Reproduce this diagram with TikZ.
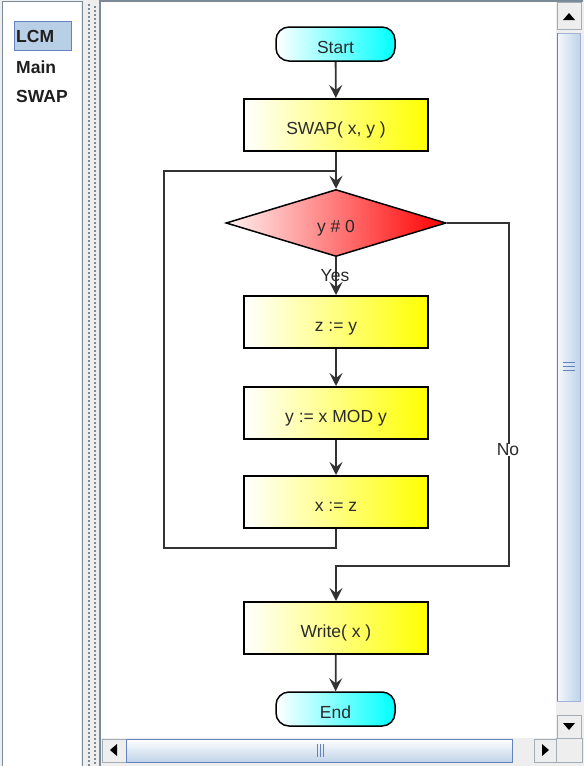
\documentclass[tikz,border=0pt]{standalone}
\usepackage{fontspec}
\setmainfont{Liberation Sans}
\usetikzlibrary{arrows.meta,shapes.geometric}
\definecolor{panelgray}{HTML}{EEEEEE}
\definecolor{framegray}{HTML}{7A8A99}
\definecolor{selbg}{HTML}{B8CFE5}
\definecolor{selborder}{HTML}{6382BF}
\definecolor{txt}{HTML}{2A2A2A}
\definecolor{linec}{HTML}{333333}
\definecolor{thumblight}{HTML}{F4F8FC}
\definecolor{thumbdark}{HTML}{BFD3E8}
\definecolor{pinkl}{HTML}{FFF2F2}
\begin{document}
\begin{tikzpicture}[x=1pt,y=-1pt,
  boxfont/.style={font=\fontsize{17.5}{20}\selectfont, text=txt, text height=18pt, text depth=0pt},
  procbox/.style={boxfont, draw=black, line width=2pt, left color=white, right color=yellow,
    minimum width=184pt, minimum height=52pt, inner sep=0pt},
  termbox/.style={boxfont, draw=black, line width=1.5pt, rounded corners=13pt, left color=white, right color=cyan,
    minimum width=119pt, minimum height=34pt, inner sep=0pt},
  decbox/.style={boxfont, shape=diamond, draw=black, line width=1.5pt, left color=pinkl, right color=red,
    minimum width=220pt, minimum height=67pt, inner sep=0pt, aspect=3.3},
  conn/.style={draw=linec, line width=1.8pt},
  arr/.style={conn, -{Stealth[length=13pt,width=13pt,inset=5pt]}},
  lbl/.style={font=\fontsize{17.5}{20}\selectfont, text=txt, inner sep=0pt},
  listfont/.style={font=\bfseries\fontsize{17.5}{20}\selectfont, text=black!88, inner sep=0pt, anchor=base west},
  btn/.style={fill=panelgray, draw=framegray!70, line width=0.8pt}
]
\useasboundingbox (0,0) rectangle (584,766);
\fill[panelgray] (0,0) rectangle (584,766);
% left panel
\fill[white] (3,2) rectangle (81,766);
\draw[framegray, line width=1pt] (2.5,766) -- (2.5,1.5) -- (82,1.5) -- (82,766);
% splitter grip
\foreach \yy in {4,8,...,764} {
  \fill[framegray] (88,\yy) rectangle (89.5,\yy+1.5);
  \fill[framegray] (94,\yy+2) rectangle (95.5,\yy+3.5);
}
% right pane
\fill[white] (101,2) rectangle (556,738);
\draw[framegray, line width=1.2pt] (100,766) -- (100,1) -- (583,1);
% list items
\node[fill=selbg, draw=selborder, line width=1pt, minimum width=57pt, minimum height=29pt, inner sep=0pt] (selrect) at (42.5,35.5) {};
\node[listfont] (lcm) at (16,42) {LCM};
\node[listfont] (main) at (16,73) {Main};
\node[listfont] (swapl) at (16,102) {SWAP};

% vertical scrollbar
\fill[panelgray] (556,2) rectangle (582,762);
\node[btn, minimum width=24pt, minimum height=27pt, inner sep=0pt] (upb) at (569,15.5) {};
\fill[black] (563,20) -- (575,20) -- (569,13) -- cycle;
\shade[left color=thumblight, right color=thumbdark] (557,33) rectangle (580,701);
\draw[selborder!60, line width=0.8pt] (557,33) rectangle (580,701);
\draw[selborder, line width=1.5pt] (557.5,33) -- (557.5,701);
\foreach \yy in {362,366,370} \draw[selborder, line width=1pt] (563,\yy) -- (575,\yy);
\node[btn, minimum width=24pt, minimum height=23pt, inner sep=0pt] (downb) at (569,726.5) {};
\fill[black] (563,723) -- (575,723) -- (569,730) -- cycle;
% horizontal scrollbar
\fill[panelgray] (101,738) rectangle (582,762);
\node[btn, minimum width=24pt, minimum height=23pt, inner sep=0pt] (leftb) at (114,750.5) {};
\fill[black] (117,744) -- (117,756) -- (110,750) -- cycle;
\shade[top color=white, bottom color=thumbdark] (126,739) rectangle (512,762);
\draw[selborder, line width=1pt] (126,739) rectangle (512,762);
\foreach \xx in {317,320,323} \draw[selborder, line width=1pt] (\xx,744) -- (\xx,757);
\node[btn, minimum width=22pt, minimum height=23pt, inner sep=0pt] (rightb) at (545,750.5) {};
\fill[black] (542,744) -- (542,756) -- (549,750) -- cycle;
\draw[framegray!70, line width=0.8pt] (556,738) rectangle (582,762);

% flowchart
\node[termbox] (start) at (335.5,44) {Start};
\node[procbox] (swap) at (336,125) {SWAP( x, y )};
\node[decbox] (dec) at (336,223) {y \# 0};
\node[procbox] (zy) at (336,322) {z := y};
\node[procbox] (mod) at (336,413) {y := x MOD y};
\node[procbox] (xz) at (336,502) {x := z};
\node[procbox] (write) at (336,628) {Write( x )};
\node[termbox] (endn) at (335.5,709) {End};

\coordinate (lb) at (164,548);
\coordinate (lt) at (164,171);
\coordinate (nr) at (509,566);

\draw[arr] (start) -- (swap);
\draw[arr] (swap) -- (dec);
\draw[arr] (dec) -- (zy);
\draw[arr] (zy) -- (mod);
\draw[arr] (mod) -- (xz);
\draw[conn] (xz.south) |- (lb) -- (lt) -- (lt -| dec.north);
\draw[arr] (dec.east) -| (nr) -| (write.north);
\draw[arr] (write) -- (endn);

\node[lbl] (yes) at (335,276) {Yes};
\node[lbl, fill=white] (no) at (508,450) {No};
\end{tikzpicture}
\end{document}
